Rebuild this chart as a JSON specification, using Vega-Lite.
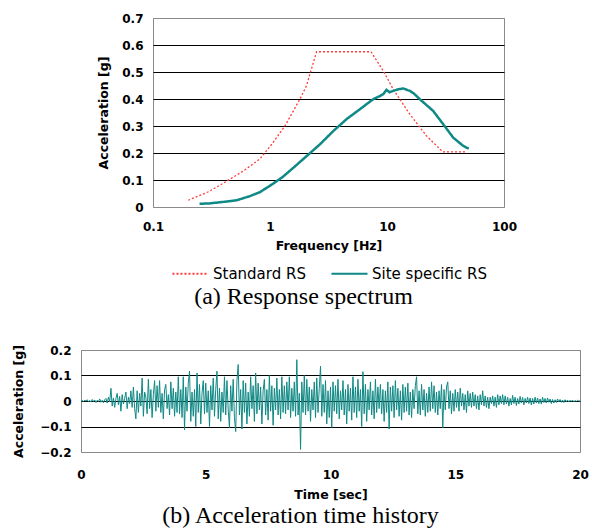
{
  "$schema": "https://vega.github.io/schema/vega-lite/v6.json",
  "padding": {"left": 12, "top": 11, "right": 2, "bottom": 0},
  "background": "white",
  "datasets": {
    "rs": [
      {"s": "Standard RS", "f": 0.2, "a": 0.025},
      {"s": "Standard RS", "f": 0.3, "a": 0.057},
      {"s": "Standard RS", "f": 0.42, "a": 0.094},
      {"s": "Standard RS", "f": 0.59, "a": 0.133},
      {"s": "Standard RS", "f": 0.82, "a": 0.178},
      {"s": "Standard RS", "f": 1.06, "a": 0.238},
      {"s": "Standard RS", "f": 1.34, "a": 0.3},
      {"s": "Standard RS", "f": 1.8, "a": 0.399},
      {"s": "Standard RS", "f": 2.05, "a": 0.449},
      {"s": "Standard RS", "f": 2.5, "a": 0.575},
      {"s": "Standard RS", "f": 7.3, "a": 0.575},
      {"s": "Standard RS", "f": 9.3, "a": 0.504},
      {"s": "Standard RS", "f": 11.3, "a": 0.436},
      {"s": "Standard RS", "f": 15.7, "a": 0.343},
      {"s": "Standard RS", "f": 21.8, "a": 0.263},
      {"s": "Standard RS", "f": 30, "a": 0.204},
      {"s": "Standard RS", "f": 48, "a": 0.204},
      {"s": "Site specific RS", "f": 0.25, "a": 0.012},
      {"s": "Site specific RS", "f": 0.3, "a": 0.013},
      {"s": "Site specific RS", "f": 0.42, "a": 0.02},
      {"s": "Site specific RS", "f": 0.52, "a": 0.025},
      {"s": "Site specific RS", "f": 0.67, "a": 0.04},
      {"s": "Site specific RS", "f": 0.82, "a": 0.055},
      {"s": "Site specific RS", "f": 1.06, "a": 0.086},
      {"s": "Site specific RS", "f": 1.29, "a": 0.112},
      {"s": "Site specific RS", "f": 1.58, "a": 0.145},
      {"s": "Site specific RS", "f": 2.05, "a": 0.188},
      {"s": "Site specific RS", "f": 2.67, "a": 0.232},
      {"s": "Site specific RS", "f": 3.47, "a": 0.281},
      {"s": "Site specific RS", "f": 4.5, "a": 0.325},
      {"s": "Site specific RS", "f": 5.86, "a": 0.362},
      {"s": "Site specific RS", "f": 7.6, "a": 0.399},
      {"s": "Site specific RS", "f": 8.7, "a": 0.411},
      {"s": "Site specific RS", "f": 9.3, "a": 0.418},
      {"s": "Site specific RS", "f": 9.9, "a": 0.434},
      {"s": "Site specific RS", "f": 10.5, "a": 0.425},
      {"s": "Site specific RS", "f": 11.3, "a": 0.43},
      {"s": "Site specific RS", "f": 12.5, "a": 0.436},
      {"s": "Site specific RS", "f": 13.8, "a": 0.439},
      {"s": "Site specific RS", "f": 15, "a": 0.433},
      {"s": "Site specific RS", "f": 15.7, "a": 0.43},
      {"s": "Site specific RS", "f": 17, "a": 0.42},
      {"s": "Site specific RS", "f": 19.1, "a": 0.399},
      {"s": "Site specific RS", "f": 24.8, "a": 0.356},
      {"s": "Site specific RS", "f": 30.3, "a": 0.306},
      {"s": "Site specific RS", "f": 36.8, "a": 0.257},
      {"s": "Site specific RS", "f": 44.9, "a": 0.226},
      {"s": "Site specific RS", "f": 50, "a": 0.216}
    ],
    "th": [
      {"t":0,"a":0},{"t":0.05,"a":0.002},{"t":0.1,"a":-0.002},{"t":0.15,"a":0.004},{"t":0.2,"a":-0.001},{"t":0.25,"a":0.005},{"t":0.3,"a":-0.003},{"t":0.35,"a":0.002},{"t":0.4,"a":-0.004},{"t":0.45,"a":0.006},{"t":0.5,"a":-0.002},{"t":0.55,"a":0.004},{"t":0.6,"a":-0.006},{"t":0.65,"a":0.003},{"t":0.7,"a":-0.002},{"t":0.75,"a":0.008},{"t":0.8,"a":-0.005},{"t":0.85,"a":0.003},{"t":0.9,"a":-0.007},{"t":0.95,"a":0.005},
      {"t":1,"a":0.01},{"t":1.05,"a":-0.008},{"t":1.1,"a":0.015},{"t":1.15,"a":-0.004},{"t":1.2,"a":0.05},{"t":1.25,"a":-0.02},{"t":1.3,"a":0.012},{"t":1.35,"a":-0.025},{"t":1.4,"a":0.01},{"t":1.45,"a":0.03},{"t":1.5,"a":-0.015},{"t":1.55,"a":0.018},{"t":1.6,"a":-0.04},{"t":1.65,"a":0.025},{"t":1.7,"a":-0.012},{"t":1.75,"a":0.01},{"t":1.8,"a":0.035},{"t":1.85,"a":-0.03},{"t":1.9,"a":0.015},{"t":1.95,"a":-0.01},
      {"t":2,"a":0.04},{"t":2.05,"a":-0.025},{"t":2.1,"a":0.055},{"t":2.15,"a":-0.03},{"t":2.2,"a":-0.07},{"t":2.25,"a":0.04},{"t":2.3,"a":-0.045},{"t":2.35,"a":0.03},{"t":2.4,"a":-0.02},{"t":2.45,"a":0.09},{"t":2.5,"a":-0.06},{"t":2.55,"a":0.035},{"t":2.6,"a":0.015},{"t":2.65,"a":-0.05},{"t":2.7,"a":0.085},{"t":2.75,"a":-0.03},{"t":2.8,"a":0.045},{"t":2.85,"a":-0.065},{"t":2.9,"a":0.025},{"t":2.95,"a":0.08},
      {"t":3,"a":-0.04},{"t":3.05,"a":0.06},{"t":3.1,"a":-0.025},{"t":3.15,"a":0.08},{"t":3.2,"a":-0.045},{"t":3.25,"a":0.03},{"t":3.3,"a":-0.07},{"t":3.35,"a":0.045},{"t":3.4,"a":0.065},{"t":3.45,"a":-0.03},{"t":3.5,"a":0.025},{"t":3.55,"a":-0.055},{"t":3.6,"a":0.075},{"t":3.65,"a":-0.03},{"t":3.7,"a":0.05},{"t":3.75,"a":-0.06},{"t":3.8,"a":0.035},{"t":3.85,"a":-0.045},{"t":3.9,"a":0.095},{"t":3.95,"a":-0.05},
      {"t":4,"a":0.045},{"t":4.05,"a":-0.065},{"t":4.1,"a":0.095},{"t":4.15,"a":-0.113},{"t":4.2,"a":0.055},{"t":4.25,"a":-0.04},{"t":4.3,"a":0.07},{"t":4.35,"a":0.117},{"t":4.4,"a":-0.08},{"t":4.45,"a":0.035},{"t":4.5,"a":-0.06},{"t":4.55,"a":0.045},{"t":4.6,"a":-0.1},{"t":4.65,"a":0.11},{"t":4.7,"a":-0.045},{"t":4.75,"a":0.065},{"t":4.8,"a":-0.09},{"t":4.85,"a":0.03},{"t":4.9,"a":0.08},{"t":4.95,"a":-0.05},
      {"t":5,"a":0.07},{"t":5.05,"a":-0.045},{"t":5.1,"a":0.04},{"t":5.15,"a":-0.1},{"t":5.2,"a":0.06},{"t":5.25,"a":-0.035},{"t":5.3,"a":0.09},{"t":5.35,"a":-0.06},{"t":5.4,"a":0.045},{"t":5.45,"a":0.117},{"t":5.5,"a":-0.07},{"t":5.55,"a":0.05},{"t":5.6,"a":-0.08},{"t":5.65,"a":0.035},{"t":5.7,"a":-0.045},{"t":5.75,"a":0.095},{"t":5.8,"a":-0.055},{"t":5.85,"a":0.08},{"t":5.9,"a":-0.035},{"t":5.95,"a":-0.104},
      {"t":6,"a":0.06},{"t":6.05,"a":-0.04},{"t":6.1,"a":0.085},{"t":6.15,"a":-0.065},{"t":6.2,"a":-0.12},{"t":6.25,"a":0.08},{"t":6.3,"a":0.143},{"t":6.35,"a":-0.055},{"t":6.4,"a":0.045},{"t":6.45,"a":-0.11},{"t":6.5,"a":0.08},{"t":6.55,"a":-0.045},{"t":6.6,"a":0.07},{"t":6.65,"a":-0.09},{"t":6.7,"a":0.035},{"t":6.75,"a":-0.06},{"t":6.8,"a":0.095},{"t":6.85,"a":-0.03},{"t":6.9,"a":0.06},{"t":6.95,"a":-0.08},
      {"t":7,"a":0.11},{"t":7.05,"a":-0.05},{"t":7.1,"a":0.07},{"t":7.15,"a":-0.035},{"t":7.2,"a":0.055},{"t":7.25,"a":-0.09},{"t":7.3,"a":0.04},{"t":7.35,"a":0.085},{"t":7.4,"a":-0.055},{"t":7.45,"a":0.045},{"t":7.5,"a":-0.075},{"t":7.55,"a":0.1},{"t":7.6,"a":-0.04},{"t":7.65,"a":0.06},{"t":7.7,"a":-0.095},{"t":7.75,"a":0.05},{"t":7.8,"a":-0.035},{"t":7.85,"a":0.09},{"t":7.9,"a":-0.055},{"t":7.95,"a":0.045},
      {"t":8,"a":-0.07},{"t":8.05,"a":0.095},{"t":8.1,"a":-0.045},{"t":8.15,"a":0.06},{"t":8.2,"a":-0.05},{"t":8.25,"a":0.075},{"t":8.3,"a":-0.035},{"t":8.35,"a":0.095},{"t":8.4,"a":-0.065},{"t":8.45,"a":0.05},{"t":8.5,"a":-0.04},{"t":8.55,"a":0.075},{"t":8.6,"a":-0.06},{"t":8.65,"a":0.162},{"t":8.7,"a":-0.055},{"t":8.75,"a":0.03},{"t":8.8,"a":-0.19},{"t":8.85,"a":0.075},{"t":8.9,"a":-0.045},{"t":8.95,"a":0.1},
      {"t":9,"a":-0.055},{"t":9.05,"a":0.085},{"t":9.1,"a":-0.04},{"t":9.15,"a":0.055},{"t":9.2,"a":-0.08},{"t":9.25,"a":0.045},{"t":9.3,"a":-0.035},{"t":9.35,"a":0.075},{"t":9.4,"a":-0.065},{"t":9.45,"a":0.09},{"t":9.5,"a":-0.045},{"t":9.55,"a":0.05},{"t":9.6,"a":0.136},{"t":9.65,"a":-0.06},{"t":9.7,"a":0.065},{"t":9.75,"a":-0.045},{"t":9.8,"a":0.08},{"t":9.85,"a":-0.09},{"t":9.9,"a":0.04},{"t":9.95,"a":-0.065},
      {"t":10,"a":0.055},{"t":10.05,"a":-0.104},{"t":10.1,"a":0.075},{"t":10.15,"a":-0.04},{"t":10.2,"a":0.06},{"t":10.25,"a":-0.05},{"t":10.3,"a":0.085},{"t":10.35,"a":-0.07},{"t":10.4,"a":0.04},{"t":10.45,"a":-0.035},{"t":10.5,"a":0.08},{"t":10.55,"a":-0.055},{"t":10.6,"a":0.045},{"t":10.65,"a":-0.09},{"t":10.7,"a":0.065},{"t":10.75,"a":-0.04},{"t":10.8,"a":0.05},{"t":10.85,"a":-0.075},{"t":10.9,"a":0.095},{"t":10.95,"a":-0.045},
      {"t":11,"a":0.055},{"t":11.05,"a":-0.065},{"t":11.1,"a":0.085},{"t":11.15,"a":-0.04},{"t":11.2,"a":0.045},{"t":11.25,"a":-0.1},{"t":11.3,"a":0.115},{"t":11.35,"a":-0.05},{"t":11.4,"a":0.065},{"t":11.45,"a":-0.08},{"t":11.5,"a":0.045},{"t":11.55,"a":-0.035},{"t":11.6,"a":0.075},{"t":11.65,"a":-0.055},{"t":11.7,"a":0.04},{"t":11.75,"a":-0.07},{"t":11.8,"a":0.085},{"t":11.85,"a":-0.045},{"t":11.9,"a":0.055},{"t":11.95,"a":-0.03},
      {"t":12,"a":0.065},{"t":12.05,"a":-0.05},{"t":12.1,"a":0.045},{"t":12.15,"a":-0.08},{"t":12.2,"a":0.04},{"t":12.25,"a":-0.045},{"t":12.3,"a":0.075},{"t":12.35,"a":-0.11},{"t":12.4,"a":0.055},{"t":12.45,"a":-0.04},{"t":12.5,"a":0.06},{"t":12.55,"a":-0.065},{"t":12.6,"a":0.08},{"t":12.65,"a":-0.035},{"t":12.7,"a":0.05},{"t":12.75,"a":-0.06},{"t":12.8,"a":0.04},{"t":12.85,"a":-0.075},{"t":12.9,"a":0.065},{"t":12.95,"a":-0.045},
      {"t":13,"a":0.055},{"t":13.05,"a":-0.04},{"t":13.1,"a":0.07},{"t":13.15,"a":-0.055},{"t":13.2,"a":0.035},{"t":13.25,"a":-0.065},{"t":13.3,"a":0.045},{"t":13.35,"a":-0.03},{"t":13.4,"a":0.06},{"t":13.45,"a":0.095},{"t":13.5,"a":-0.05},{"t":13.55,"a":0.04},{"t":13.6,"a":-0.055},{"t":13.65,"a":0.065},{"t":13.7,"a":-0.035},{"t":13.75,"a":0.045},{"t":13.8,"a":-0.06},{"t":13.85,"a":0.03},{"t":13.9,"a":-0.045},{"t":13.95,"a":0.055},
      {"t":14,"a":-0.04},{"t":14.05,"a":0.075},{"t":14.1,"a":-0.03},{"t":14.15,"a":0.06},{"t":14.2,"a":-0.045},{"t":14.25,"a":0.035},{"t":14.3,"a":-0.055},{"t":14.35,"a":0.04},{"t":14.4,"a":-0.03},{"t":14.45,"a":0.065},{"t":14.5,"a":-0.105},{"t":14.55,"a":0.045},{"t":14.6,"a":-0.035},{"t":14.65,"a":0.055},{"t":14.7,"a":0.075},{"t":14.75,"a":-0.03},{"t":14.8,"a":0.04},{"t":14.85,"a":-0.05},{"t":14.9,"a":0.03},{"t":14.95,"a":-0.04},
      {"t":15,"a":0.045},{"t":15.05,"a":-0.025},{"t":15.1,"a":0.035},{"t":15.15,"a":-0.04},{"t":15.2,"a":0.05},{"t":15.25,"a":-0.02},{"t":15.3,"a":0.03},{"t":15.35,"a":-0.035},{"t":15.4,"a":0.025},{"t":15.45,"a":-0.045},{"t":15.5,"a":0.04},{"t":15.55,"a":-0.02},{"t":15.6,"a":0.03},{"t":15.65,"a":-0.025},{"t":15.7,"a":0.035},{"t":15.75,"a":-0.02},{"t":15.8,"a":0.025},{"t":15.85,"a":-0.03},{"t":15.9,"a":0.02},{"t":15.95,"a":-0.035},
      {"t":16,"a":0.025},{"t":16.05,"a":-0.015},{"t":16.1,"a":0.04},{"t":16.15,"a":-0.02},{"t":16.2,"a":0.02},{"t":16.25,"a":-0.025},{"t":16.3,"a":0.015},{"t":16.35,"a":-0.03},{"t":16.4,"a":0.015},{"t":16.45,"a":-0.01},{"t":16.5,"a":0.02},{"t":16.55,"a":-0.02},{"t":16.6,"a":0.015},{"t":16.65,"a":-0.025},{"t":16.7,"a":0.025},{"t":16.75,"a":-0.015},{"t":16.8,"a":0.02},{"t":16.85,"a":-0.01},{"t":16.9,"a":0.025},{"t":16.95,"a":-0.015},
      {"t":17,"a":0.02},{"t":17.05,"a":-0.012},{"t":17.1,"a":0.015},{"t":17.15,"a":-0.02},{"t":17.2,"a":0.01},{"t":17.25,"a":-0.015},{"t":17.3,"a":0.022},{"t":17.35,"a":-0.01},{"t":17.4,"a":0.015},{"t":17.45,"a":-0.018},{"t":17.5,"a":0.01},{"t":17.55,"a":-0.012},{"t":17.6,"a":0.018},{"t":17.65,"a":-0.008},{"t":17.7,"a":0.014},{"t":17.75,"a":-0.015},{"t":17.8,"a":0.01},{"t":17.85,"a":-0.008},{"t":17.9,"a":0.015},{"t":17.95,"a":-0.01},
      {"t":18,"a":0.012},{"t":18.05,"a":-0.015},{"t":18.1,"a":0.01},{"t":18.15,"a":-0.012},{"t":18.2,"a":0.015},{"t":18.25,"a":-0.008},{"t":18.3,"a":0.012},{"t":18.35,"a":-0.01},{"t":18.4,"a":0.008},{"t":18.45,"a":-0.012},{"t":18.5,"a":0.015},{"t":18.55,"a":-0.006},{"t":18.6,"a":0.01},{"t":18.65,"a":-0.008},{"t":18.7,"a":0.012},{"t":18.75,"a":-0.005},{"t":18.8,"a":0.008},{"t":18.85,"a":-0.01},{"t":18.9,"a":0.006},{"t":18.95,"a":-0.008},
      {"t":19,"a":0.005},{"t":19.05,"a":-0.006},{"t":19.1,"a":0.008},{"t":19.15,"a":-0.004},{"t":19.2,"a":0.006},{"t":19.25,"a":-0.005},{"t":19.3,"a":0.004},{"t":19.35,"a":-0.006},{"t":19.4,"a":0.005},{"t":19.45,"a":-0.003},{"t":19.5,"a":0.004},{"t":19.55,"a":-0.004},{"t":19.6,"a":0.003},{"t":19.65,"a":-0.002},{"t":19.7,"a":0.004},{"t":19.75,"a":-0.003},{"t":19.8,"a":0.002},{"t":19.85,"a":-0.002},{"t":19.9,"a":0.003},{"t":19.95,"a":0},{"t":20,"a":0}
    ]
  },
  "vconcat": [
    {
      "hconcat": [
        {
          "width": 16,
          "height": 10,
          "data": {"values": []},
          "mark": {"type": "rect", "opacity": 0},
          "view": {"stroke": null}
        },
        {
          "width": 351,
          "height": 189,
          "data": {"name": "rs"},
          "title": {"text": "(a) Response spectrum", "orient": "bottom", "offset": 3, "dx": -25},
          "encoding": {
            "x": {
              "field": "f", "type": "quantitative",
              "scale": {"type": "log", "domain": [0.1, 100]},
              "axis": {"values": [0.1, 1, 10, 100], "format": "~g", "title": "Frequency [Hz]", "grid": false, "labelFlush": false, "labelPadding": 14, "titlePadding": 7}
            },
            "y": {
              "field": "a", "type": "quantitative",
              "scale": {"domain": [0, 0.7], "nice": false},
              "axis": {
                "values": [0, 0.1, 0.2, 0.3, 0.4, 0.5, 0.6, 0.7], "format": "~g",
                "title": "Acceleration [g]", "grid": true, "labelPadding": 10, "titlePadding": 11,
                "gridColor": {"condition": {"test": "datum.value > 0.65 || datum.value < 0.05", "value": "#8a8a8a"}, "value": "black"}
              }
            },
            "color": {
              "field": "s", "type": "nominal",
              "scale": {"domain": ["Standard RS", "Site specific RS"], "range": ["#ff3b3b", "#0f8985"]},
              "legend": {"title": null}
            },
            "strokeDash": {
              "field": "s", "type": "nominal",
              "scale": {"domain": ["Standard RS", "Site specific RS"], "range": [[2, 2], [1, 0]]},
              "legend": {"title": null}
            }
          },
          "layer": [
            {
              "transform": [{"filter": "datum.s === 'Standard RS'"}],
              "mark": {"type": "line", "strokeWidth": 1.3}
            },
            {
              "transform": [{"filter": "datum.s === 'Site specific RS'"}],
              "mark": {"type": "line", "strokeWidth": 2.5}
            }
          ]
        }
      ],
      "spacing": 0,
      "resolve": {"scale": {"color": "independent", "strokeDash": "independent"}, "legend": {"color": "independent", "strokeDash": "independent"}}
    },
    {
      "width": 499,
      "height": 102,
      "data": {"name": "th"},
      "title": {"text": "(b) Acceleration time history", "orient": "bottom", "offset": 3, "dx": -30},
      "mark": {"type": "line", "strokeWidth": 1, "color": "#0f8985"},
      "encoding": {
        "x": {
          "field": "t", "type": "quantitative",
          "scale": {"domain": [0, 20], "nice": false},
          "axis": {"values": [0, 5, 10, 15, 20], "title": "Time [sec]", "grid": false, "labelFlush": false, "labelPadding": 17, "titlePadding": 8}
        },
        "y": {
          "field": "a", "type": "quantitative",
          "scale": {"domain": [-0.2, 0.2], "nice": false},
          "axis": {
            "values": [-0.2, -0.1, 0, 0.1, 0.2], "format": "~g",
            "title": "Acceleration [g]", "grid": true, "labelPadding": 10, "titlePadding": 14,
            "gridColor": {"condition": {"test": "abs(datum.value) > 0.15", "value": "#8a8a8a"}, "value": "black"}
          }
        }
      }
    }
  ],
  "spacing": 33,
  "resolve": {"scale": {"color": "independent", "strokeDash": "independent"}, "legend": {"color": "independent", "strokeDash": "independent"}},
  "config": {
    "view": {"stroke": "#8a8a8a", "strokeWidth": 1},
    "axis": {
      "labelFont": "DejaVu Sans", "labelFontWeight": "bold", "labelFontSize": 12, "labelColor": "black",
      "titleFont": "DejaVu Sans", "titleFontWeight": "bold", "titleFontSize": 12.5, "titleColor": "black",
      "ticks": false, "domain": false, "gridWidth": 1, "gridOpacity": 1
    },
    "legend": {
      "orient": "bottom", "direction": "horizontal",
      "labelFont": "DejaVu Sans", "labelFontSize": 15, "labelColor": "black", "labelOffset": 3,
      "symbolType": "stroke", "symbolSize": 1300, "symbolStrokeWidth": 2, "columnPadding": 21,
      "offset": 2,
      "layout": {"bottom": {"anchor": "middle"}}
    },
    "title": {"font": "Liberation Serif", "fontSize": 24, "fontWeight": "normal", "color": "black", "anchor": "middle"}
  }
}
